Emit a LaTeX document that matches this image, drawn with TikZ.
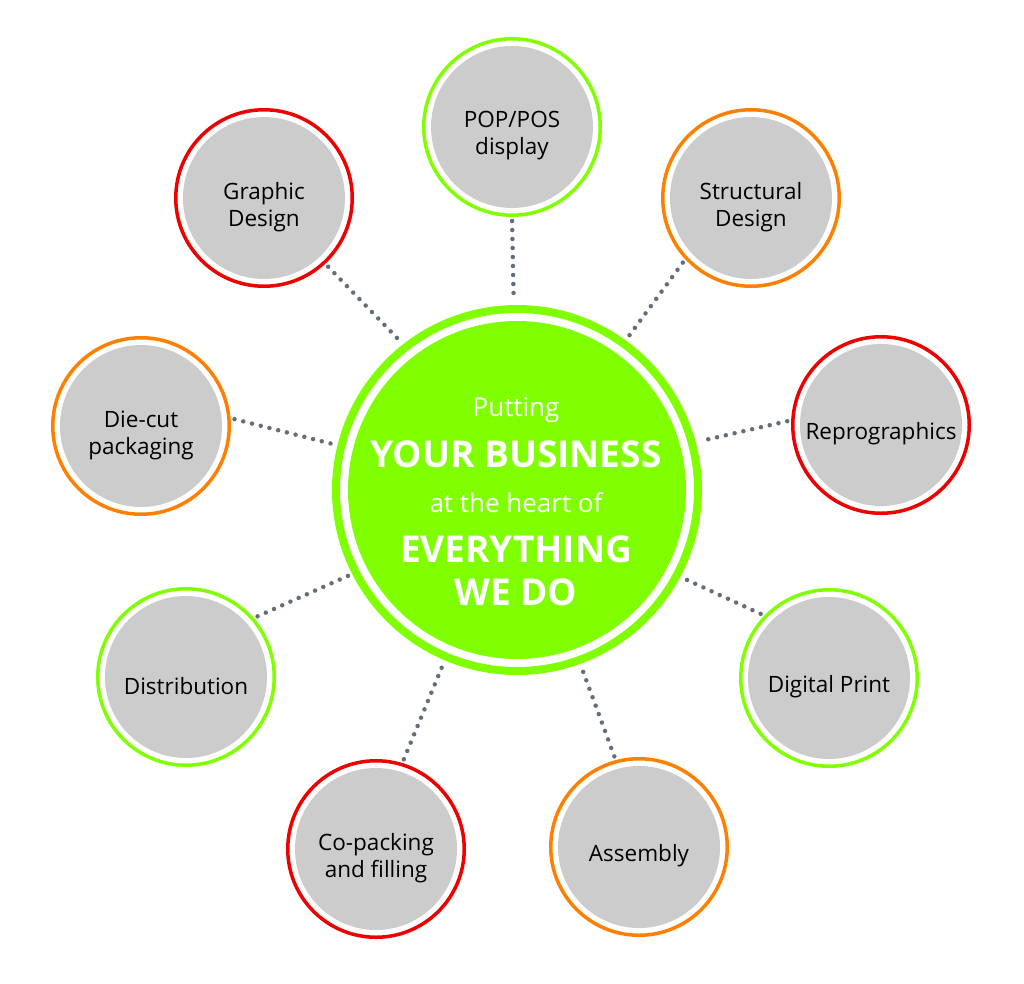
\documentclass[tikz,border=0pt]{standalone}
\usepackage{fontspec}
\setmainfont{Open Sans}
\definecolor{lgreen}{RGB}{128,255,0}
\definecolor{ringred}{RGB}{237,0,0}
\definecolor{ringorange}{RGB}{255,128,0}
\definecolor{satgray}{RGB}{204,204,204}
\definecolor{dotgray}{RGB}{100,110,122}
\begin{document}
\begin{tikzpicture}[x=1pt,y=-1pt,
  sat/.style={circle, draw=#1, line width=3.5pt, fill=white, minimum size=176.5pt,
    inner sep=0pt,
    path picture={\fill[satgray] (path picture bounding box.center) circle[radius=81pt];}},
  sattxt/.style={align=center, text=black, inner sep=0pt, yshift=-9pt,
    font=\fontsize{22.5}{27}\selectfont},
  hub/.style={circle, draw=lgreen, line width=8pt, fill=white, minimum size=362pt,
    inner sep=0pt,
    path picture={\fill[lgreen] (path picture bounding box.center) circle[radius=169pt];}},
  conn/.style={draw=dotgray, line width=4.5pt, line cap=round,
    dash pattern=on 0pt off 9pt, shorten <=4pt, shorten >=4pt},
  hubtxt/.style={text=white, anchor=base, inner sep=0pt},
  lighttxt/.style={hubtxt, font=\fontsize{26}{26}\selectfont},
  boldtxt/.style={hubtxt, font=\bfseries\fontsize{37}{37}\selectfont}
]
\useasboundingbox (0,0) rectangle (1024,983);

\node[hub] (c) at (517,490) {};
\node[lighttxt] (t1) at (516,416) {Putting};
\node[boldtxt]  (t2) at (516,467) {YOUR BUSINESS};
\node[lighttxt] (t3) at (516,512) {at the heart of};
\node[boldtxt]  (t4) at (516,562) {EVERYTHING};
\node[boldtxt]  (t5) at (516,605) {WE DO};

\node[sat=lgreen]     (pop) at (512,127) {};
\node[sat=ringred]    (gd)  at (264,198) {};
\node[sat=ringorange] (sd)  at (751,198) {};
\node[sat=ringorange] (dc)  at (141,426) {};
\node[sat=ringred]    (rp)  at (881,425) {};
\node[sat=lgreen]     (di)  at (186,677) {};
\node[sat=lgreen]     (dp)  at (829,678) {};
\node[sat=ringred]    (cp)  at (376,849) {};
\node[sat=ringorange] (as)  at (639,847) {};

\node[sattxt] (popt) at (pop) {POP/POS\\display};
\node[sattxt] (gdt)  at (gd)  {Graphic\\Design};
\node[sattxt] (sdt)  at (sd)  {Structural\\Design};
\node[sattxt] (dct)  at (dc)  {Die-cut\\packaging};
\node[sattxt] (rpt)  at (rp)  {Reprographics};
\node[sattxt] (dit)  at (di)  {Distribution};
\node[sattxt] (dpt)  at (dp)  {Digital Print};
\node[sattxt] (cpt)  at (cp)  {Co-packing\\and filling};
\node[sattxt] (ast)  at (as)  {Assembly};

\draw[conn] (pop.-90) -- (c.91.5);
\draw[conn] (gd.-47)  -- (c.128);
\draw[conn] (sd.223)  -- (c.54);
\draw[conn] (rp.177)  -- (c.15);
\draw[conn] (dc.5)    -- (c.166.5);
\draw[conn] (di.41)   -- (c.207);
\draw[conn] (dp.136)  -- (c.-28);
\draw[conn] (cp.73)   -- (c.247);
\draw[conn] (as.105)  -- (c.-70);
\end{tikzpicture}
\end{document}
